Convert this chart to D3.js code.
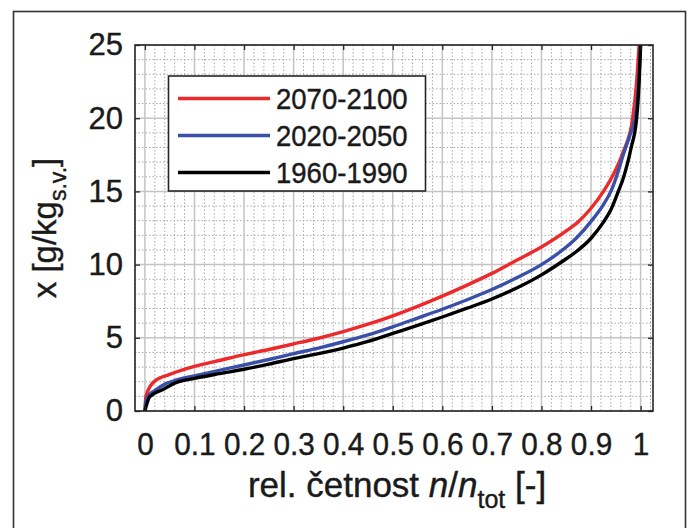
<!DOCTYPE html>
<html>
<head>
<meta charset="utf-8">
<script src="https://cdn.jsdelivr.net/npm/d3@7"></script>
<style>
  body { margin: 0; background: #fff; }
  text { font-family: "Liberation Sans", Arial, Helvetica, sans-serif; fill: #1a1a1a; stroke: #1a1a1a; stroke-width: 0.4px; }
</style>
</head>
<body>
<div id="chart"></div>
<script>
// series: [relative frequency n/ntot, x in g/kg]
var series2070 = [[0,0],[0.002,1.0],[0.02,2.05],[0.05,2.5],[0.1,3.05],[0.15,3.45],[0.2,3.85],[0.25,4.2],[0.3,4.58],[0.35,4.97],[0.4,5.42],[0.45,5.93],[0.5,6.5],[0.55,7.15],[0.6,7.85],[0.65,8.6],[0.7,9.4],[0.75,10.3],[0.8,11.2],[0.85,12.3],[0.875,12.95],[0.9,13.85],[0.925,15.0],[0.95,16.5],[0.965,17.7],[0.984,20.0],[0.992,22.5],[0.997,25]];
var series2020 = [[0,0],[0.002,0.6],[0.007,1.05],[0.02,1.4],[0.037,1.78],[0.057,2.05],[0.1,2.4],[0.15,2.78],[0.2,3.14],[0.25,3.52],[0.3,3.92],[0.35,4.3],[0.4,4.73],[0.45,5.2],[0.5,5.75],[0.55,6.35],[0.6,6.95],[0.65,7.6],[0.7,8.3],[0.75,9.1],[0.8,10.0],[0.85,11.2],[0.87,11.8],[0.9,12.95],[0.925,14.1],[0.94,15.0],[0.955,16.4],[0.964,17.4],[0.98,19.0],[0.99,20.2],[0.996,22.5],[1.0,25]];
var series1960 = [[0,0],[0.004,0.5],[0.01,0.98],[0.034,1.43],[0.064,1.96],[0.1,2.23],[0.15,2.55],[0.2,2.85],[0.25,3.2],[0.3,3.58],[0.35,3.92],[0.4,4.3],[0.45,4.75],[0.5,5.3],[0.55,5.85],[0.6,6.42],[0.65,7.02],[0.7,7.65],[0.75,8.4],[0.8,9.3],[0.85,10.4],[0.87,10.88],[0.9,11.8],[0.925,12.9],[0.94,13.75],[0.955,15.0],[0.964,15.8],[0.981,18.0],[0.992,20.0],[0.997,22.5],[1.0,25]];

var seriesNames = ["2070-2100", "2020-2050", "1960-1990"];
var seriesColors = ["#ec2a2c", "#3a50a8", "#000000"];
var seriesData = [series2070, series2020, series1960];

var xTicks = [0,0.1,0.2,0.3,0.4,0.5,0.6,0.7,0.8,0.9,1];
var yTicks = [0,5,10,15,20,25];

var chart = { width: 692, height: 528, left: 135, right: 653, top: 45, bottom: 411 };

var svg = d3.select("#chart").append("svg")
  .attr("width", chart.width)
  .attr("height", chart.height);

// outer figure border
svg.append("rect")
  .attr("x", 13.5).attr("y", 11.5)
  .attr("width", 672).attr("height", 530)
  .attr("fill", "none").attr("stroke", "#333").attr("stroke-width", 1.6);

var x = d3.scaleLinear().domain([-0.02, 1.025]).range([chart.left, chart.right]);
var y = d3.scaleLinear().domain([0, 25]).range([chart.bottom, chart.top]);

var grid = svg.append("g").attr("id", "grid");

// minor grid
var xMinor = d3.range(-1, 52).map(function(i){ return i * 0.02; }).filter(function(v){ return Math.abs(v*10 - Math.round(v*10)) > 1e-6; });
var yMinor = d3.range(0, 26).filter(function(v){ return v % 5 != 0; });
grid.selectAll("line.xminor").data(xMinor).enter().append("line")
  .attr("class", "xminor")
  .attr("x1", function(d){ return x(d); }).attr("x2", function(d){ return x(d); })
  .attr("y1", chart.top).attr("y2", chart.bottom)
  .attr("stroke", "#a8a8a8").attr("stroke-width", 1).attr("stroke-dasharray", "1.5,2");
grid.selectAll("line.yminor").data(yMinor).enter().append("line")
  .attr("class", "yminor")
  .attr("x1", chart.left).attr("x2", chart.right)
  .attr("y1", function(d){ return y(d); }).attr("y2", function(d){ return y(d); })
  .attr("stroke", "#a8a8a8").attr("stroke-width", 1).attr("stroke-dasharray", "1.5,2");

// major grid
grid.selectAll("line.xmajor").data(xTicks).enter().append("line")
  .attr("class", "xmajor")
  .attr("x1", function(d){ return x(d); }).attr("x2", function(d){ return x(d); })
  .attr("y1", chart.top).attr("y2", chart.bottom)
  .attr("stroke", "#c4c4c4").attr("stroke-width", 1.5);
grid.selectAll("line.ymajor").data(yTicks).enter().append("line")
  .attr("class", "ymajor")
  .attr("x1", chart.left).attr("x2", chart.right)
  .attr("y1", function(d){ return y(d); }).attr("y2", function(d){ return y(d); })
  .attr("stroke", "#c4c4c4").attr("stroke-width", 1.5);

// curves
var line = d3.line()
  .curve(d3.curveMonotoneX)
  .x(function(d){ return x(d[0]); })
  .y(function(d){ return y(d[1]); });

svg.append("g").attr("id", "curves").selectAll("path")
  .data(seriesData).enter().append("path")
  .attr("d", line)
  .attr("fill", "none")
  .attr("stroke", function(d, i){ return seriesColors[i]; })
  .attr("stroke-width", 3.4)
  .attr("stroke-linejoin", "round");

// axes with inward ticks
var fmt = d3.format("~g");
var xAxis = svg.append("g").attr("transform", "translate(0," + chart.bottom + ")")
  .call(d3.axisBottom(x).tickValues(xTicks).tickFormat(fmt).tickSize(-5).tickPadding(21));
var yAxis = svg.append("g").attr("transform", "translate(" + chart.left + ",0)")
  .call(d3.axisLeft(y).tickValues(yTicks).tickFormat(fmt).tickSize(-5).tickPadding(12));
svg.append("g").attr("transform", "translate(0," + chart.top + ")")
  .call(d3.axisTop(x).tickValues(xTicks).tickFormat("").tickSize(-5));
svg.append("g").attr("transform", "translate(" + chart.right + ",0)")
  .call(d3.axisRight(y).tickValues(yTicks).tickFormat("").tickSize(-5));

svg.selectAll(".domain").remove();
svg.selectAll(".tick line").attr("stroke", "#262626").attr("stroke-width", 1.3);
xAxis.attr("font-size", 32).attr("font-family", null);
yAxis.attr("font-size", 31).attr("font-family", null);
xAxis.selectAll("text").attr("fill", "#1a1a1a").attr("transform", "scale(0.93,1)");
yAxis.selectAll("text").attr("fill", "#1a1a1a");

// plot frame
svg.append("rect")
  .attr("x", chart.left).attr("y", chart.top)
  .attr("width", chart.right - chart.left).attr("height", chart.bottom - chart.top)
  .attr("fill", "none").attr("stroke", "#262626").attr("stroke-width", 1.6);

// legend
var legend = svg.append("g").attr("id", "legend");
legend.append("rect")
  .attr("x", 168.5).attr("y", 76)
  .attr("width", 257).attr("height", 115)
  .attr("fill", "#fff").attr("stroke", "#262626").attr("stroke-width", 1.6);
var items = legend.selectAll("g.item").data(seriesNames).enter().append("g")
  .attr("class", "item")
  .attr("transform", function(d, i){ return "translate(0," + (98.5 + i * 37) + ")"; });
items.append("line")
  .attr("x1", 178).attr("x2", 270)
  .attr("stroke", function(d, i){ return seriesColors[i]; })
  .attr("stroke-width", 3.4);
items.append("text")
  .attr("transform", "translate(276,0) scale(0.95,1)")
  .attr("dy", "0.36em")
  .attr("font-size", 29)
  .text(function(d){ return d; });

// axis titles
var xt = svg.append("text")
  .attr("x", (chart.left + chart.right) / 2 + 3).attr("y", 497)
  .attr("text-anchor", "middle")
  .attr("font-size", 35);
xt.append("tspan").text("rel. četnost ");
xt.append("tspan").style("font-style", "italic").text("n");
xt.append("tspan").text("/");
xt.append("tspan").style("font-style", "italic").text("n");
xt.append("tspan").attr("dy", 11).attr("font-size", 25).text("tot");
xt.append("tspan").attr("dy", -11).text(" [-]");

var yt = svg.append("text")
  .attr("transform", "translate(56," + ((chart.top + chart.bottom) / 2) + ") rotate(-90)")
  .attr("text-anchor", "middle")
  .attr("font-size", 33);
yt.append("tspan").text("x [g/kg");
yt.append("tspan").attr("dy", 10).attr("font-size", 23).text("s.v.");
yt.append("tspan").attr("dy", -10).text("]");
</script>
</body>
</html>
